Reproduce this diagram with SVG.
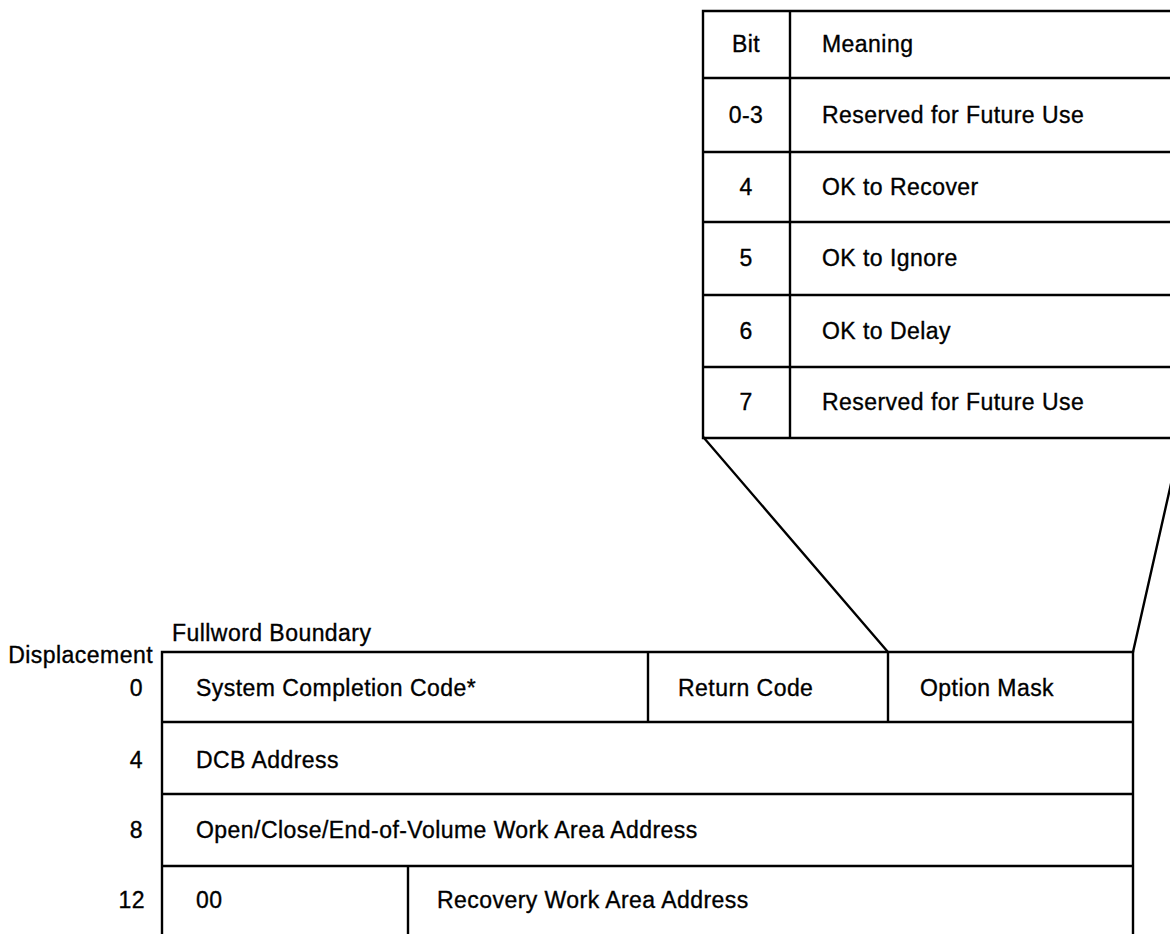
<svg xmlns="http://www.w3.org/2000/svg" width="1170" height="934" viewBox="0 0 1170 934">
<style>
.ln{stroke:#000;stroke-width:2.4;fill:none;stroke-linecap:square}
.t{font-family:"Liberation Sans",Arial,sans-serif;font-size:23px;letter-spacing:0.45px;fill:#000;stroke:#000;stroke-width:0.35}
.c{text-anchor:middle}
.r{text-anchor:end}
</style>
<rect width="1170" height="934" fill="#fff"/>
<g id="bit-table">
  <path class="ln" d="M703,11 H1175 M703,11 V438 M790,11 V438 M703,78 H1175 M703,152 H1175 M703,222 H1175 M703,295 H1175 M703,367 H1175 M703,438 H1175"/>
  <text class="t c" x="746" y="52">Bit</text>
  <text class="t" x="822" y="52">Meaning</text>
  <text class="t c" x="746" y="123">0-3</text>
  <text class="t" x="822" y="123">Reserved for Future Use</text>
  <text class="t c" x="746" y="195">4</text>
  <text class="t" x="822" y="195">OK to Recover</text>
  <text class="t c" x="746" y="266">5</text>
  <text class="t" x="822" y="266">OK to Ignore</text>
  <text class="t c" x="746" y="339">6</text>
  <text class="t" x="822" y="339">OK to Delay</text>
  <text class="t c" x="746" y="410">7</text>
  <text class="t" x="822" y="410">Reserved for Future Use</text>
</g>
<g id="connectors">
  <path class="ln" d="M704,438 L888,652"/>
  <path class="ln" d="M1133,652 L1173,475"/>
</g>
<g id="labels">
  <text class="t" x="172" y="641">Fullword Boundary</text>
  <text class="t r" x="153" y="663">Displacement</text>
  <text class="t r" x="143" y="696">0</text>
  <text class="t r" x="143" y="768">4</text>
  <text class="t r" x="143" y="838">8</text>
  <text class="t r" x="145" y="908">12</text>
</g>
<g id="control-block">
  <path class="ln" d="M162,652 H1133 M162,652 V940 M1133,652 V940 M162,722 H1133 M162,794 H1133 M162,866 H1133 M648,652 V722 M888,652 V722 M408,866 V940"/>
  <text class="t" x="196" y="696">System Completion Code*</text>
  <text class="t" x="678" y="696">Return Code</text>
  <text class="t" x="920" y="696">Option Mask</text>
  <text class="t" x="196" y="768">DCB Address</text>
  <text class="t" x="196" y="838">Open/Close/End-of-Volume Work Area Address</text>
  <text class="t" x="196" y="908">00</text>
  <text class="t" x="437" y="908">Recovery Work Area Address</text>
</g>
</svg>
